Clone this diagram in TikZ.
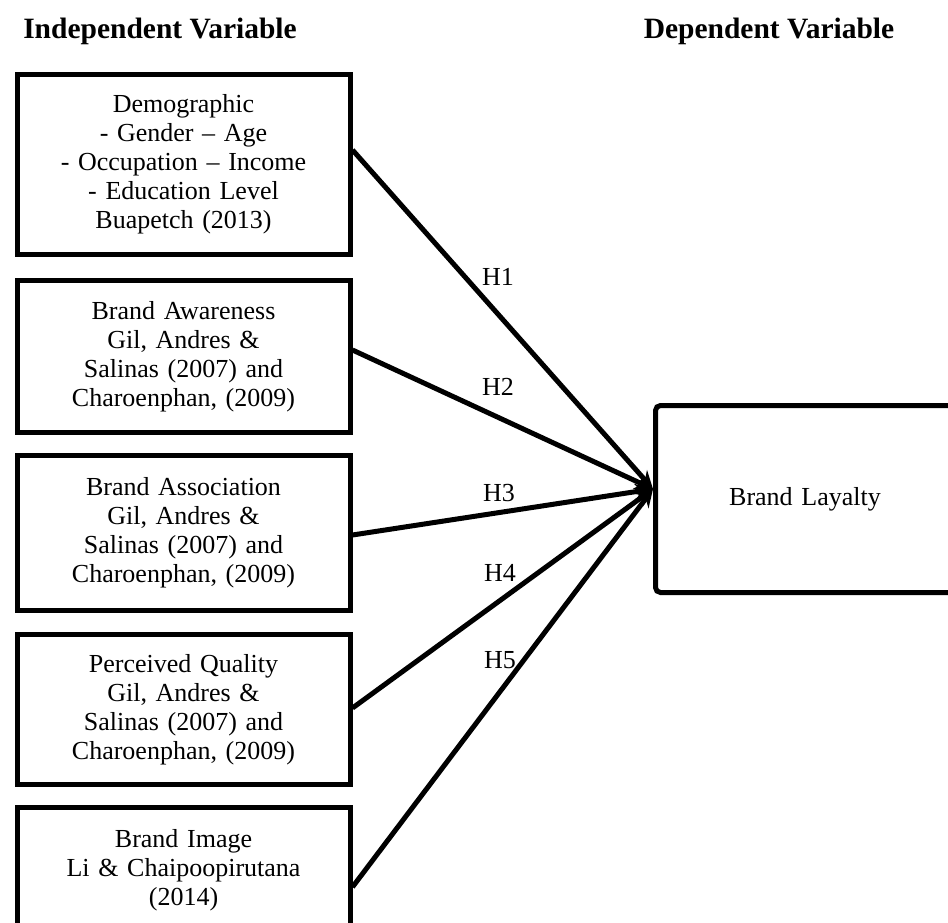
\documentclass[tikz,border=0pt]{standalone}
\usepackage{fontspec}
\setmainfont{Liberation Serif}
\usetikzlibrary{arrows.meta}
\tikzset{varbox/.style={draw,line width=5pt,minimum width=333pt,text width=320pt,
   align=center,inner sep=0pt,font=\fontsize{26}{29}\selectfont},
 header/.style={font=\fontsize{29.5}{32}\selectfont\bfseries},
 hyp/.style={font=\fontsize{26}{29}\selectfont},
 link/.style={line width=5pt,-{Stealth[length=18pt,width=16pt]}},
 }

\begin{document}
\begin{tikzpicture}[x=1pt,y=-1pt]
        \useasboundingbox (0,0) rectangle (948,923);
        \node[header] (indep) at (160,31) {Independent Variable};
        \node[header] (dep) at (769,31) {Dependent Variable};
        \node[varbox,minimum height=180pt] (demo) at (183.5,164.5)
            {Demographic\\- Gender -- Age\\- Occupation -- Income\\- Education Level\\Buapetch (2013)};
        \node[varbox,minimum height=152pt] (aware) at (183.5,356.5)
            {Brand Awareness\\Gil, Andres \&\\Salinas (2007) and\\Charoenphan, (2009)};
        \node[varbox,minimum height=155pt] (assoc) at (183.5,533)
            {Brand Association\\Gil, Andres \&\\Salinas (2007) and\\Charoenphan, (2009)};
        \node[varbox,minimum height=150pt] (qual) at (183.5,709.5)
            {Perceived Quality\\Gil, Andres \&\\Salinas (2007) and\\Charoenphan, (2009)};
        \node[varbox,minimum height=125pt] (image) at (183.5,870)
            {Brand Image\\Li \& Chaipoopirutana\\(2014)};
        \node[varbox,rounded corners=5pt,text width=260pt,minimum width=299pt,minimum height=187pt] (loyal) at (805,499)
            {Brand Layalty};
        \coordinate (tip) at ([yshift=10pt]loyal.west);
        \draw[link] ([yshift=14.5pt]demo.east) -- (tip);
        \draw[link] ([yshift=6.5pt]aware.east) -- (tip);
        \draw[link] ([yshift=-2pt]assoc.east) -- (tip);
        \draw[link] ([yshift=1.5pt]qual.east) -- (tip);
        \draw[link] ([yshift=-17pt]image.east) -- (tip);
        \node[hyp] (h1) at (498,277) {H1};
        \node[hyp] (h2) at (498,387) {H2};
        \node[hyp] (h3) at (499,493) {H3};
        \node[hyp] (h4) at (500,573) {H4};
        \node[hyp] (h5) at (500,660) {H5};
\end{tikzpicture}
\end{document}
